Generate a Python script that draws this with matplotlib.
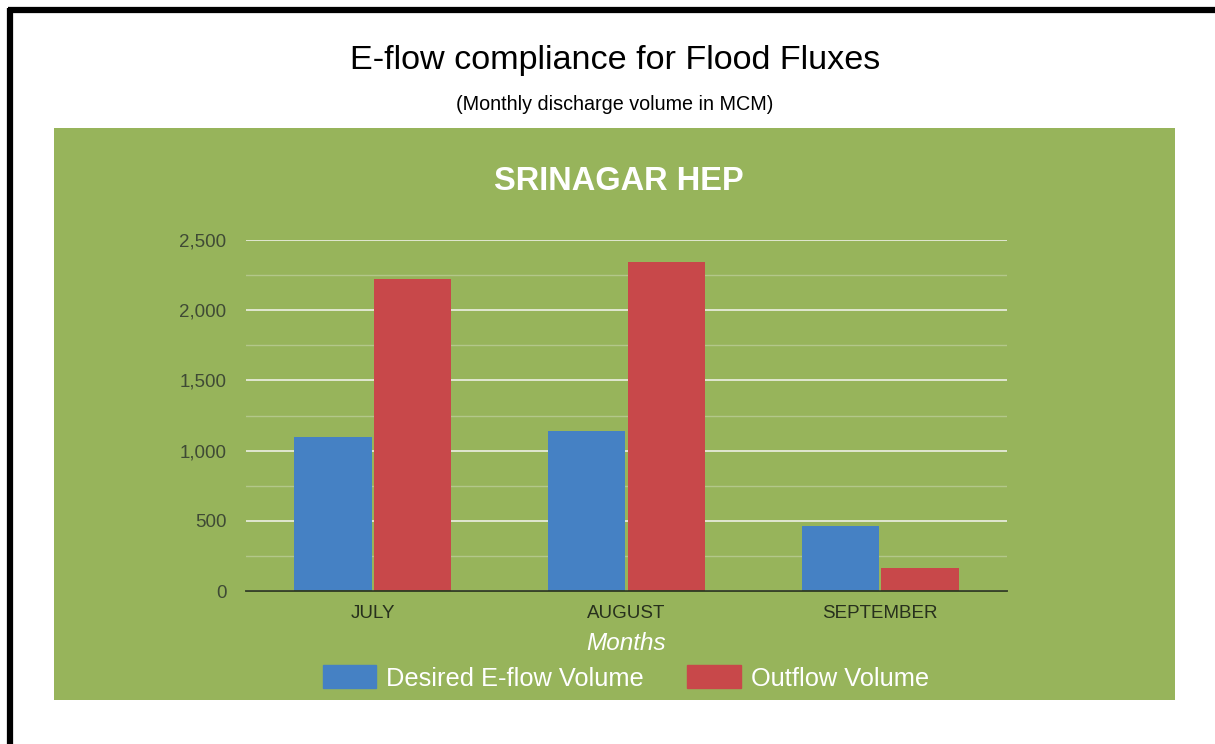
import matplotlib.pyplot as plt
import matplotlib.patches as mpatches
from matplotlib.lines import Line2D
from matplotlib.ticker import MultipleLocator, FuncFormatter
import numpy as np

plt.rcParams['font.family'] = ['Liberation Sans', 'DejaVu Sans']

# Data (MCM)
months = ['JULY', 'AUGUST', 'SEPTEMBER']
desired_eflow = [1100, 1140, 465]
outflow = [2220, 2345, 165]

green = '#97B45B'
blue = '#4581C4'
red = '#C8484A'

fig = plt.figure(figsize=(12.15, 7.44), dpi=100)
fig.patch.set_facecolor('white')

# Green chart panel (behind the axes)
panel = mpatches.Rectangle((54 / 1215, 1 - 700 / 744), (1175 - 54) / 1215, (700 - 128) / 744,
                           transform=fig.transFigure, facecolor=green, edgecolor='none', zorder=-5)
fig.patches.append(panel)

# Black frame on top and left
fig.add_artist(Line2D([8 / 1215, 1], [1 - 10 / 744, 1 - 10 / 744], transform=fig.transFigure,
                      color='black', linewidth=4.5, solid_capstyle='butt'))
fig.add_artist(Line2D([10.5 / 1215, 10.5 / 1215], [0, 1 - 8 / 744], transform=fig.transFigure,
                      color='black', linewidth=4.5, solid_capstyle='butt'))

# Titles
fig.text(615 / 1215, 1 - 61 / 744, 'E-flow compliance for Flood Fluxes', ha='center', va='center',
         fontsize=24.6, color='black')
fig.text(615 / 1215, 1 - 104 / 744, '(Monthly discharge volume in MCM)', ha='center', va='center',
         fontsize=14.2, color='black')
fig.text(619 / 1215, 1 - 181 / 744, 'SRINAGAR HEP', ha='center', va='center',
         fontsize=23.5, color='white', fontweight='bold')

ax = fig.add_axes([246 / 1215, 1 - 591 / 744, (1007 - 246) / 1215, (591 - 240) / 744])
ax.set_facecolor('none')

x = np.arange(len(months))
w = 0.305
ax.bar(x - w / 2 - 0.004, desired_eflow, width=w, color=blue, zorder=3, label='Desired E-flow Volume')
ax.bar(x + w / 2 + 0.004, outflow, width=w, color=red, zorder=3, label='Outflow Volume')

ax.set_xlim(-0.5, 2.5)
ax.set_ylim(0, 2500)
ax.yaxis.set_major_locator(MultipleLocator(500))
ax.yaxis.set_minor_locator(MultipleLocator(250))
ax.yaxis.set_major_formatter(FuncFormatter(lambda v, p: f'{int(v):,}'))
ax.grid(axis='y', which='major', color='#E6EBDA', linewidth=1.3, zorder=1)
ax.grid(axis='y', which='minor', color='#B3C78A', linewidth=1.0, zorder=1)

for s in ['top', 'right', 'left']:
    ax.spines[s].set_visible(False)
ax.spines['bottom'].set_color('#2E3A22')
ax.spines['bottom'].set_linewidth(1.3)
ax.spines['bottom'].set_zorder(4)

ax.set_xticks(x)
ax.set_xticklabels(months)
ax.tick_params(axis='x', length=0, pad=10, labelsize=13.5, labelcolor='#27301D')
ax.tick_params(axis='y', which='both', length=0, pad=14, labelsize=13.5, labelcolor='#3F4A35')

ax.set_xlabel('Months', fontsize=17.5, color='white', style='italic', labelpad=7)

handles = [mpatches.Patch(color=blue), mpatches.Patch(color=red)]
leg = fig.legend(handles, ['Desired E-flow Volume', 'Outflow Volume'], loc='center',
                 bbox_to_anchor=(626 / 1215, 1 - 678 / 744), ncol=2, frameon=False,
                 fontsize=18.3, handlelength=2.1, handleheight=1.0, handletextpad=0.4,
                 columnspacing=1.7)
for t in leg.get_texts():
    t.set_color('white')

fig.savefig('out.png', dpi=100, facecolor='white')
